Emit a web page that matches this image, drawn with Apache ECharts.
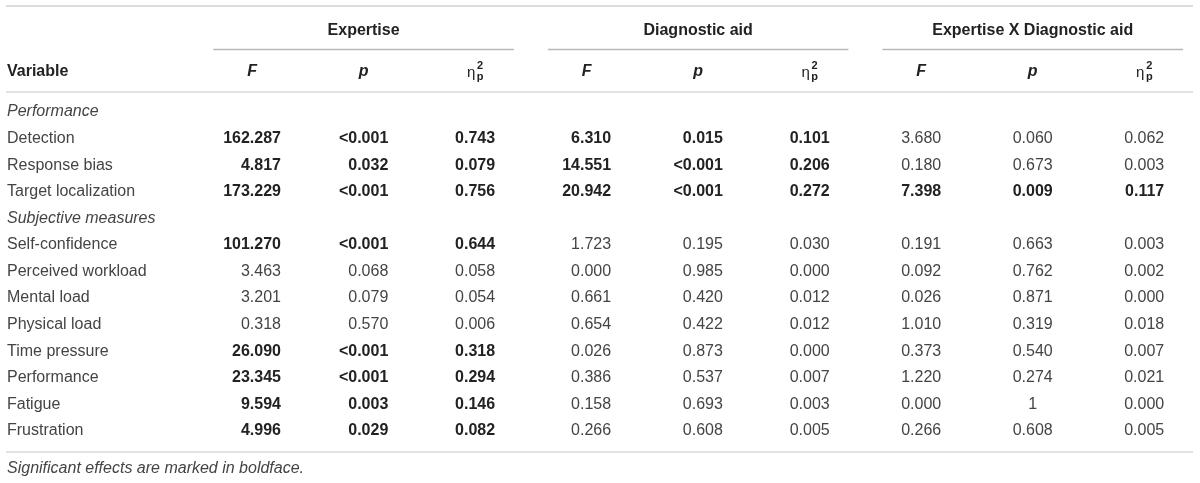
<!DOCTYPE html>
<html>
<head>
<meta charset="utf-8">
<title>Expertise x Diagnostic aid</title>
<script src="https://cdn.jsdelivr.net/npm/echarts@6/dist/echarts.min.js"></script>
<style>
  html, body { margin: 0; padding: 0; background: #fff; }
  #main { width: 1200px; height: 483px; }
</style>
</head>
<body>
<div id="main"></div>
<script>
var groups = ['Expertise', 'Diagnostic aid', 'Expertise X Diagnostic aid'];
var stats = ['F', 'p', 'eta'];
var variables = ['Performance', 'Detection', 'Response bias', 'Target localization',
  'Subjective measures', 'Self-confidence', 'Perceived workload', 'Mental load',
  'Physical load', 'Time pressure', 'Performance', 'Fatigue', 'Frustration'];
var sectionRows = [0, 4];

var expF   = ['', '162.287', '4.817', '173.229', '', '101.270', '3.463', '3.201', '0.318', '26.090', '23.345', '9.594', '4.996'];
var expP   = ['', '<0.001', '0.032', '<0.001', '', '<0.001', '0.068', '0.079', '0.570', '<0.001', '<0.001', '0.003', '0.029'];
var expEta = ['', '0.743', '0.079', '0.756', '', '0.644', '0.058', '0.054', '0.006', '0.318', '0.294', '0.146', '0.082'];
var diagF   = ['', '6.310', '14.551', '20.942', '', '1.723', '0.000', '0.661', '0.654', '0.026', '0.386', '0.158', '0.266'];
var diagP   = ['', '0.015', '<0.001', '<0.001', '', '0.195', '0.985', '0.420', '0.422', '0.873', '0.537', '0.693', '0.608'];
var diagEta = ['', '0.101', '0.206', '0.272', '', '0.030', '0.000', '0.012', '0.012', '0.000', '0.007', '0.003', '0.005'];
var intF   = ['', '3.680', '0.180', '7.398', '', '0.191', '0.092', '0.026', '1.010', '0.373', '1.220', '0.000', '0.266'];
var intP   = ['', '0.060', '0.673', '0.009', '', '0.663', '0.762', '0.871', '0.319', '0.540', '0.274', '1', '0.608'];
var intEta = ['', '0.062', '0.003', '0.117', '', '0.003', '0.002', '0.000', '0.018', '0.007', '0.021', '0.000', '0.005'];

var columns = [expF, expP, expEta, diagF, diagP, diagEta, intF, intP, intEta];
var footnote = 'Significant effects are marked in boldface.';

// ---- helpers ----
var FONT = '"Liberation Sans", Arial, sans-serif';
var colNames = [];
groups.forEach(function (g) { stats.forEach(function (s) { colNames.push(g + ' ' + s); }); });

function isSig(p) {
  if (!p) return false;
  if (p.charAt(0) === '<') return true;
  return parseFloat(p) < 0.05;
}

var cells = [];
columns.forEach(function (vals, c) {
  var pCol = columns[Math.floor(c / 3) * 3 + 1];
  vals.forEach(function (t, r) {
    if (t === '') return;
    cells.push({ col: c, row: r, text: t, bold: isSig(pCol[r]) });
  });
});

// widest entry of each column, so numbers right-align under a centred header
var ctx = document.createElement('canvas').getContext('2d');
ctx.font = 'bold 16px ' + FONT;
var halfW = columns.map(function (vals) {
  var m = 0;
  vals.forEach(function (t) { m = Math.max(m, ctx.measureText(t).width); });
  return m / 2;
});

var headerItems = [];
groups.forEach(function (g, i) {
  headerItems.push({ kind: 'group', col: i * 3 + 1, row: 0, text: g });
  headerItems.push({ kind: 'rule', col: i * 3 + 1, row: 0 });
});
colNames.forEach(function (n, c) {
  headerItems.push({ kind: 'stat', col: c, row: 1, text: stats[c % 3] });
});

var chart = echarts.init(document.getElementById('main'), null, { renderer: 'canvas' });

var option = {
  animation: false,
  title: {
    text: footnote, left: 7, top: 461, padding: 0,
    textStyle: { fontFamily: FONT, fontSize: 16, fontWeight: 'normal', fontStyle: 'italic', color: '#444' }
  },
  grid: [
    { left: 196.3, width: 1006.6, top: 98.7, height: 345.6 },
    { left: 196.3, width: 1006.6, top: 10.5, height: 82 }
  ],
  xAxis: [
    { type: 'category', gridIndex: 0, data: colNames, show: false },
    { type: 'category', gridIndex: 1, data: colNames, show: false }
  ],
  yAxis: [
    {
      type: 'category', gridIndex: 0, data: variables, inverse: true,
      axisLine: { show: false }, axisTick: { show: false }, splitLine: { show: false },
      axisLabel: {
        align: 'left', margin: 189.3, fontFamily: FONT, fontSize: 16, color: '#444',
        formatter: function (v, i) {
          return sectionRows.indexOf(i) >= 0 ? '{it|' + v + '}' : v;
        },
        rich: { it: { fontFamily: FONT, fontSize: 16, fontStyle: 'italic', color: '#444' } }
      }
    },
    {
      type: 'category', gridIndex: 1, data: ['', 'Variable'], inverse: true,
      axisLine: { show: false }, axisTick: { show: false }, splitLine: { show: false },
      axisLabel: { align: 'left', margin: 189.3, fontFamily: FONT, fontSize: 16, fontWeight: 'bold', color: '#222' }
    }
  ],
  graphic: [
    { type: 'line', shape: { x1: 6, y1: 6, x2: 1193, y2: 6 }, style: { stroke: '#dcdcdc', lineWidth: 2 } },
    { type: 'line', shape: { x1: 6, y1: 92, x2: 1193, y2: 92 }, style: { stroke: '#d8d8d8', lineWidth: 1.5 } },
    { type: 'line', shape: { x1: 6, y1: 452, x2: 1193, y2: 452 }, style: { stroke: '#d8d8d8', lineWidth: 1.5 } }
  ],
  series: [
    {
      type: 'custom', xAxisIndex: 0, yAxisIndex: 0,
      data: cells.map(function (d) { return [d.col, d.row]; }),
      renderItem: function (params, api) {
        var d = cells[params.dataIndex];
        var pt = api.coord([api.value(0), api.value(1)]);
        var centred = d.text.indexOf('.') < 0;
        return {
          type: 'text',
          x: centred ? pt[0] : pt[0] + halfW[d.col],
          y: pt[1],
          style: {
            text: d.text,
            align: centred ? 'center' : 'right',
            verticalAlign: 'middle',
            font: (d.bold ? 'bold ' : '') + '16px ' + FONT,
            fill: d.bold ? '#222' : '#444'
          }
        };
      }
    },
    {
      type: 'custom', xAxisIndex: 1, yAxisIndex: 1,
      data: headerItems.map(function (d) { return [d.col, d.row]; }),
      renderItem: function (params, api) {
        var d = headerItems[params.dataIndex];
        var pt = api.coord([api.value(0), api.value(1)]);
        if (d.kind === 'group') {
          return {
            type: 'text', x: pt[0], y: pt[1],
            style: { text: d.text, align: 'center', verticalAlign: 'middle', font: 'bold 16px ' + FONT, fill: '#222' }
          };
        }
        if (d.kind === 'rule') {
          var band = api.size([1, 0])[0];
          var lower = api.coord([api.value(0), 1]);
          var y = (pt[1] + lower[1]) / 2 - 2;
          return {
            type: 'line',
            shape: { x1: pt[0] - band * 1.5 + 17, y1: y, x2: pt[0] + band * 1.5 - 17, y2: y },
            style: { stroke: '#b8b8b8', lineWidth: 1.5 }
          };
        }
        if (d.text === 'eta') {
          return {
            type: 'group',
            children: [
              { type: 'text', x: pt[0] - 4, y: pt[1] + 1, style: { text: '\u03b7', align: 'center', verticalAlign: 'middle', font: '15px ' + FONT, fill: '#222' } },
              { type: 'text', x: pt[0] + 5, y: pt[1] - 6, style: { text: '2', align: 'center', verticalAlign: 'middle', font: 'bold 11px ' + FONT, fill: '#222' } },
              { type: 'text', x: pt[0] + 5, y: pt[1] + 5, style: { text: 'p', align: 'center', verticalAlign: 'middle', font: 'bold 11px ' + FONT, fill: '#222' } }
            ]
          };
        }
        return {
          type: 'text', x: pt[0], y: pt[1],
          style: { text: d.text, align: 'center', verticalAlign: 'middle', font: 'italic bold 16px ' + FONT, fill: '#222' }
        };
      }
    }
  ]
};

chart.setOption(option);
window.addEventListener('resize', chart.resize);
</script>
</body>
</html>
